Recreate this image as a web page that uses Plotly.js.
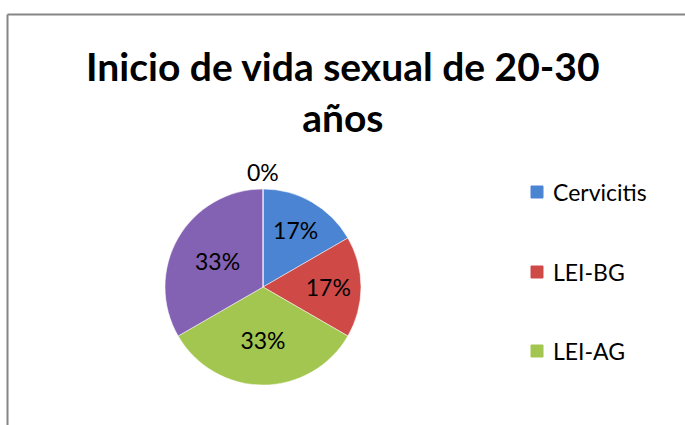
<!DOCTYPE html>
<html><head><meta charset="utf-8">
<script src="https://cdn.plot.ly/plotly-3.0.1.min.js"></script>
<style>html,body{margin:0;padding:0;background:#fff;}#chart{width:685px;height:425px;}</style>
</head><body><div id="chart"></div>
<script>
const categories = ["Cervicitis", "LEI-BG", "LEI-AG", "Otro", "Sin dato"];
const values = [1, 1, 2, 2, 0];
const colors = ["#4A84D2", "#CF4A46", "#A2C64F", "#8462B3", "#4BACC6"];
const legendCategories = ["Cervicitis", "LEI-BG", "LEI-AG"];
const titleText = "Inicio de vida sexual de 20-30<br>años";

const W = 685, H = 425;
const cx = 263, cy = 287, r = 98;
const FONT = "Lato, 'Open Sans', sans-serif";
const total = values.reduce((a, b) => a + b, 0);

const trace = {
  type: "pie",
  labels: categories,
  values: values,
  sort: false,
  direction: "clockwise",
  rotation: 0,
  marker: {colors: colors, line: {color: "rgba(255,255,255,0.5)", width: 1}},
  texttemplate: "%{percent:.0%}",
  textposition: values.map(v => v === 0 ? "none" : "inside"),
  insidetextorientation: "horizontal",
  textfont: {family: FONT, size: 23, color: "#000"},
  showlegend: false,
  hoverinfo: "none",
  domain: {x: [(cx - r) / W, (cx + r) / W], y: [(H - cy - r) / H, (H - cy + r) / H]}
};

const shapes = [
  {type: "line", xref: "paper", yref: "paper", x0: 7.5 / W, x1: 1.05, y0: 1 - 14.5 / H, y1: 1 - 14.5 / H, line: {color: "#868686", width: 2}},
  {type: "line", xref: "paper", yref: "paper", x0: 7.5 / W, x1: 7.5 / W, y0: 1 - 14.5 / H, y1: -0.05, line: {color: "#868686", width: 2}}
];
const annotations = [
  {xref: "paper", yref: "paper", x: 343 / W, y: 1 - 91 / H, xanchor: "center", yanchor: "middle",
   showarrow: false, text: "<b>" + titleText + "</b>",
   font: {family: FONT, size: 39, color: "#000"}}
];
// zero-valued slice label placed outside at the top
values.forEach((v, i) => {
  if (v === 0) {
    annotations.push({xref: "paper", yref: "paper", x: cx / W, y: 1 - 172 / H,
      xanchor: "center", yanchor: "middle", showarrow: false,
      text: Math.round(100 * v / total) + "%", font: {family: FONT, size: 23, color: "#000"}});
  }
});
const legY = [192, 272, 351];
legendCategories.forEach((name, i) => {
  const idx = categories.indexOf(name);
  const y = legY[i];
  shapes.push({type: "rect", xref: "paper", yref: "paper",
    x0: 531 / W, x1: 543 / W, y0: 1 - (y + 6) / H, y1: 1 - (y - 6) / H,
    fillcolor: colors[idx], line: {color: colors[idx], width: 1}});
  annotations.push({xref: "paper", yref: "paper", x: 551 / W, y: 1 - y / H,
    xanchor: "left", yanchor: "middle", showarrow: false, text: name,
    font: {family: FONT, size: 23, color: "#000"}});
});

const layout = {
  width: W, height: H,
  margin: {l: 0, r: 0, t: 0, b: 0},
  paper_bgcolor: "#fff",
  showlegend: false,
  shapes: shapes,
  annotations: annotations
};

Plotly.newPlot("chart", [trace], layout, {displayModeBar: false, staticPlot: true});
</script></body></html>
